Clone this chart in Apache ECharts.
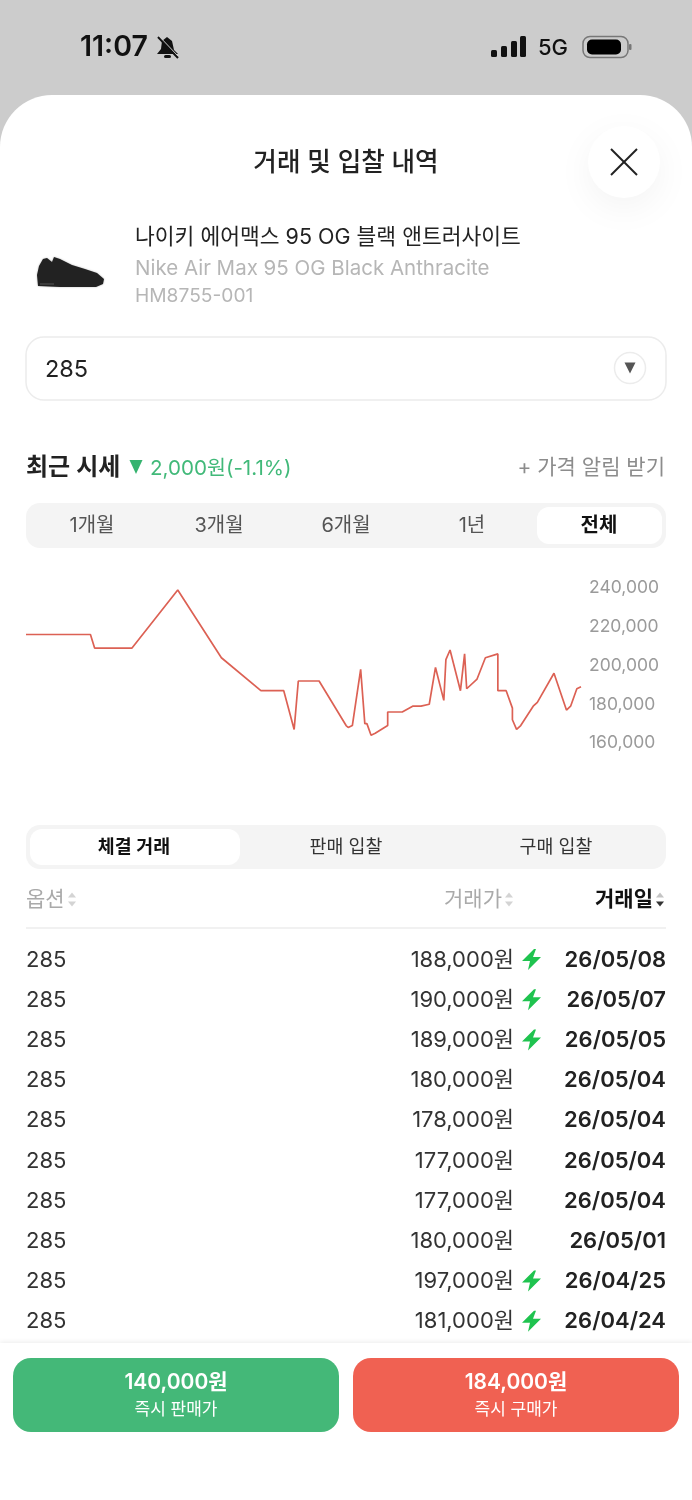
<!DOCTYPE html>
<html>
<head>
<meta charset="utf-8">
<style>
html, body { margin: 0; padding: 0; background: #fff; }
#main { width: 692px; height: 1500px; }
</style>
<script src="https://cdn.jsdelivr.net/npm/echarts@6/dist/echarts.min.js"></script>
</head>
<body>
<div id="main"></div>
<script>
// price history (dates estimated from the line, same date twice = vertical step)
var priceDates = ['2025-08-14','2025-09-14','2025-09-16','2025-10-04','2025-10-26','2025-11-16','2025-12-05','2025-12-16','2025-12-21','2025-12-23',
	'2026-01-02','2026-01-15','2026-01-16','2026-01-18','2026-01-22','2026-01-24','2026-01-25','2026-01-27','2026-01-29','2026-02-04',
	'2026-02-04','2026-02-11','2026-02-16','2026-02-20','2026-02-24','2026-02-27','2026-03-03','2026-03-04','2026-03-06','2026-03-11',
	'2026-03-13','2026-03-14','2026-03-19','2026-03-23','2026-03-29','2026-03-29','2026-04-02','2026-04-05','2026-04-05','2026-04-07',
	'2026-04-09','2026-04-15','2026-04-17','2026-04-25','2026-05-01','2026-05-03','2026-05-06','2026-05-08'];
var priceValues = [216000,216000,209000,209000,239000,204000,187000,187000,167000,192000,
	192000,169000,168000,169000,198000,170000,170000,164000,165000,169000,
	176000,176000,179000,179000,180000,199000,182000,203000,208000,187000,
	206000,188000,193000,204000,206000,187000,187000,178000,172000,167000,
	169000,179000,181000,196000,177000,179000,188000,189000];

// table
var rowOptions = ['285','285','285','285','285','285','285','285','285','285'];
var rowPrices = ['188,000원','190,000원','189,000원','180,000원','178,000원','177,000원','177,000원','180,000원','197,000원','181,000원'];
var rowFast = [true,true,true,false,false,false,false,false,true,true];
var rowDates = ['26/05/08','26/05/07','26/05/05','26/05/04','26/05/04','26/05/04','26/05/04','26/05/01','26/04/25','26/04/24'];
var rangeTabs = ['1개월','3개월','6개월','1년','전체'];
var listTabs = ['체결 거래','판매 입찰','구매 입찰'];

var FONT = 'Inter, "Noto Sans CJK KR", sans-serif';
var myChart = echarts.init(document.getElementById('main'));

function txt(x, y, text, size, color, weight, align) {
	return {
		type: 'text', silent: true, z: 5,
		style: { x: x, y: y + 1, text: text, fontSize: size, fill: color, fontWeight: weight || 400,
			fontFamily: FONT, align: align || 'left', verticalAlign: 'middle' }
	};
}
function box(x, y, w, h, r, fill, stroke, extra) {
	var style = { fill: fill, stroke: stroke || null, lineWidth: stroke ? 1.5 : 0 };
	for (var k in extra) style[k] = extra[k];
	return { type: 'rect', silent: true, z: 1, shape: { x: x, y: y, width: w, height: h, r: r }, style: style };
}
function poly(points, fill, extra) {
	var style = { fill: fill };
	for (var k in extra) style[k] = extra[k];
	return { type: 'polygon', silent: true, z: 4, shape: { points: points }, style: style };
}
// small triangle, dir 1 = down, -1 = up
function tri(cx, cy, w, h, fill, dir) {
	return poly([[cx - w / 2, cy - dir * h / 2], [cx + w / 2, cy - dir * h / 2], [cx, cy + dir * h / 2]], fill);
}
function seg(x1, y1, x2, y2, color, width) {
	return { type: 'line', silent: true, z: 4, shape: { x1: x1, y1: y1, x2: x2, y2: y2 }, style: { stroke: color, lineWidth: width } };
}

var g = [];
// status bar + sheet
g.push(box(0, 0, 692, 170, 0, '#cccccc'));
g.push(box(0, 95, 692, 1405, [52, 52, 0, 0], '#ffffff'));
g.push(txt(80, 46, '11:07', 28.5, '#111', 600));
g.push(poly([[167,37],[172,41],[174,50],[178,54],[157,54],[161,49],[162,41]], '#111'));
g.push(seg(158, 37, 178, 58, '#111', 2));
g.push(seg(158, 35, 178, 56, '#cccccc', 1));
g.push(box(164, 55, 7, 3, 1.5, '#111'));
g.push(box(491, 50, 6, 7, 1.5, '#111'));
g.push(box(501, 46, 6, 11, 1.5, '#111'));
g.push(box(511, 41, 6, 16, 1.5, '#111'));
g.push(box(520, 36, 6, 21, 1.5, '#111'));
g.push(txt(538, 47, '5G', 22, '#111', 500));
g.push(box(583, 36.5, 45, 21, 7, 'none', '#777'));
g.push(box(587, 39.5, 34, 15, 5, '#000'));
g.push(box(629, 44, 2.5, 6, 1, '#777'));
// header
g.push(txt(346, 162, '거래 및 입찰 내역', 25.6, '#222', 500, 'center'));
g.push({ type: 'circle', silent: true, z: 1, shape: { cx: 624, cy: 162, r: 36 },
	style: { fill: '#fff', shadowBlur: 36, shadowColor: 'rgba(0,0,0,0.05)', shadowOffsetY: 10 } });
g.push(seg(611, 149, 637, 175, '#222', 2));
g.push(seg(637, 149, 611, 175, '#222', 2));
// product
g.push(poly([[38,286],[37,275],[39,266],[43,259],[47,258],[52,262],[54,257],[60,259],[72,265],[85,269],[97,273],[104,279],[103,284],[96,287],[60,287]], '#222222', { shadowBlur: 2, shadowColor: 'rgba(0,0,0,0.3)' }));
g.push(seg(40, 284, 54, 284, '#555', 1));
g.push(txt(135, 237, '나이키 에어맥스 95 OG 블랙 앤트러사이트', 21.5, '#222'));
g.push(txt(135, 268, 'Nike Air Max 95 OG Black Anthracite', 20.5, '#b6b6b6'));
g.push(txt(135, 295, 'HM8755-001', 19.2, '#b6b6b6'));
// size select
g.push(box(26, 337, 640, 63, 18, '#fff', '#ececec'));
g.push(txt(45, 369, '285', 23.5, '#222'));
g.push({ type: 'circle', silent: true, z: 2, shape: { cx: 630, cy: 368, r: 15.5 }, style: { fill: '#fff', stroke: '#ececec', lineWidth: 1.5 } });
g.push(tri(630, 368, 11, 11, '#555', 1));
// recent price row
g.push(txt(26, 467, '최근 시세', 24, '#222', 600));
g.push(tri(136, 467, 13, 14, '#35b36f', 1));
g.push(txt(150, 468, '2,000원(-1.1%)', 20.6, '#41b979'));
g.push(txt(665, 467, '+ 가격 알림 받기', 21, '#8c8c8c', 400, 'right'));
// range tabs
g.push(box(26, 503, 640, 45, 14, '#f4f4f4'));
g.push(box(537, 507, 125, 37, 12, '#fff'));
var rangeX = [92, 219, 346, 472, 599];
rangeTabs.forEach(function (name, i) {
	var on = i === rangeTabs.length - 1;
	g.push(txt(rangeX[i], 525, name, 20, on ? '#111' : '#555', on ? 700 : 400, 'center'));
});
// list tabs
g.push(box(26, 825, 640, 44, 14, '#f4f4f4'));
g.push(box(30, 829, 210, 36, 12, '#fff'));
var listX = [134, 346, 556];
listTabs.forEach(function (name, i) {
	g.push(txt(listX[i], 846, name, 18.4, i === 0 ? '#111' : '#333', i === 0 ? 600 : 400, 'center'));
});
// table header
g.push(txt(26, 899, '옵션', 21, '#aaaaaa'));
g.push(tri(72, 895, 8, 5, '#d4d4d4', -1));
g.push(tri(72, 904, 8, 5, '#d4d4d4', 1));
g.push(txt(502, 899, '거래가', 21, '#aaaaaa', 400, 'right'));
g.push(tri(509, 895, 8, 5, '#d4d4d4', -1));
g.push(tri(509, 904, 8, 5, '#d4d4d4', 1));
g.push(txt(653, 899, '거래일', 21, '#111', 700, 'right'));
g.push(tri(660, 895, 8, 5, '#c4c4c4', -1));
g.push(tri(660, 904, 8, 5, '#333', 1));
g.push(seg(26, 928, 666, 928, '#ececec', 1.5));
// table rows
rowOptions.forEach(function (opt, i) {
	var y = 959 + i * 40.2;
	g.push(txt(26, y, opt, 22, '#333'));
	g.push(txt(514, y, rowPrices[i], 22, '#333', 400, 'right'));
	if (rowFast[i]) {
		g.push(poly([[534,y-10],[522,y+2],[530,y+2],[528,y+11],[541,y-2],[533,y-2],[536,y-10]], '#1fc34f'));
	}
	g.push(txt(666, y, rowDates[i], 22, '#222', 600, 'right'));
});
// bottom bar
g.push(box(0, 1343, 692, 157, 0, '#fff', null, { shadowBlur: 5, shadowColor: 'rgba(0,0,0,0.08)', shadowOffsetY: -1 }));
g.push(Object.assign(box(13, 1358, 326, 74, 18, '#44b878'), { z: 2 }));
g.push(Object.assign(box(353, 1358, 326, 74, 18, '#f06152'), { z: 2 }));
g.push(txt(176, 1382, '140,000원', 21, '#fff', 600, 'center'));
g.push(txt(176, 1409, '즉시 판매가', 17, '#fff', 400, 'center'));
g.push(txt(516, 1382, '184,000원', 21, '#fff', 600, 'center'));
g.push(txt(516, 1409, '즉시 구매가', 17, '#fff', 400, 'center'));

option = {
	animation: false,
	backgroundColor: '#ffffff',
	graphic: { elements: g },
	grid: { left: 26, right: 111, top: 588, height: 155 },
	xAxis: { type: 'time', show: false, min: 'dataMin', max: 'dataMax' },
	yAxis: {
		type: 'value', position: 'right', min: 160000, max: 240000, interval: 20000, z: 6,
		axisLine: { show: false }, axisTick: { show: false }, splitLine: { show: false },
		axisLabel: { color: '#9a9a9a', fontSize: 17.5, fontFamily: FONT, margin: 8, padding: [3, 0, 0, 0] }
	},
	series: [{
		type: 'line', showSymbol: false, symbol: 'none', z: 3,
		lineStyle: { color: '#dc6154', width: 1.7 },
		data: priceDates.map(function (d, i) { return [d, priceValues[i]]; })
	}]
};
myChart.setOption(option);
</script>
</body>
</html>
